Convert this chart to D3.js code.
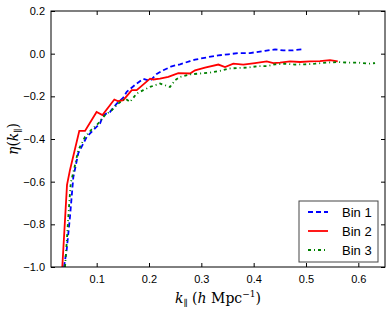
<!DOCTYPE html>
<html>
<head>
<meta charset="utf-8">
<script src="https://cdnjs.cloudflare.com/ajax/libs/d3/7.8.5/d3.min.js"></script>
<style>
	html, body { margin: 0; padding: 0; background: #fff; }
	svg { display: block; }
	.tick text { font-family: "Liberation Sans", Arial, sans-serif; font-size: 11px; fill: #000; }
</style>
</head>
<body>
<div id="chart"></div>
<script>
	'use strict';

	// values: k_par (h/Mpc) and eta for each bin
	var bin1K = [0.0375, 0.0427, 0.049, 0.0553, 0.0649, 0.0714, 0.0809, 0.0935, 0.1064, 0.1127, 0.1255, 0.1383,
		0.1509, 0.1574, 0.1765, 0.1891, 0.202, 0.2147, 0.2273, 0.2434, 0.2593, 0.2784, 0.288, 0.3134, 0.3325,
		0.3516, 0.3707, 0.393, 0.4217, 0.4408, 0.4567, 0.4728, 0.4919];
	var bin1Eta = [-1.0, -0.919, -0.764, -0.58, -0.466, -0.436, -0.390, -0.358, -0.327, -0.288, -0.273, -0.234,
		-0.206, -0.179, -0.140, -0.118, -0.128, -0.095, -0.078, -0.059, -0.050, -0.035, -0.028, -0.016, -0.008,
		-0.003, 0.003, 0.003, 0.013, 0.020, 0.015, 0.015, 0.020];

	var bin2K = [0.0343, 0.0433, 0.049, 0.0668, 0.0777, 0.0998, 0.111, 0.1337, 0.1413, 0.1509, 0.167, 0.1765,
		0.202, 0.2082, 0.221, 0.2369, 0.256, 0.2784, 0.288, 0.307, 0.3325, 0.3453, 0.3611, 0.3802, 0.4026,
		0.425, 0.4376, 0.4504, 0.4695, 0.4886, 0.5077, 0.5268, 0.5459, 0.5607];
	var bin2Eta = [-1.0, -0.615, -0.545, -0.362, -0.362, -0.273, -0.288, -0.215, -0.223, -0.218, -0.171, -0.171,
		-0.117, -0.121, -0.117, -0.109, -0.091, -0.093, -0.078, -0.065, -0.051, -0.063, -0.047, -0.051, -0.044,
		-0.036, -0.044, -0.042, -0.036, -0.039, -0.036, -0.035, -0.030, -0.036];

	var bin3K = [0.0395, 0.0427, 0.0458, 0.0504, 0.0586, 0.0649, 0.0714, 0.0777, 0.0905, 0.1031, 0.1159, 0.1287,
		0.1413, 0.1541, 0.1637, 0.1765, 0.1891, 0.202, 0.221, 0.2401, 0.2497, 0.2593, 0.2784, 0.2975, 0.3166,
		0.3357, 0.3516, 0.3707, 0.3898, 0.4089, 0.4274, 0.4408, 0.4599, 0.479, 0.4981, 0.5173, 0.5396, 0.5618,
		0.5809, 0.6, 0.619, 0.632];
	var bin3Eta = [-1.0, -0.886, -0.764, -0.607, -0.522, -0.452, -0.421, -0.390, -0.355, -0.327, -0.288, -0.265,
		-0.234, -0.210, -0.226, -0.187, -0.171, -0.156, -0.140, -0.156, -0.125, -0.109, -0.097, -0.093, -0.089,
		-0.081, -0.070, -0.067, -0.065, -0.058, -0.058, -0.050, -0.047, -0.051, -0.050, -0.047, -0.042, -0.039,
		-0.042, -0.042, -0.047, -0.044];

	var seriesNames = ['Bin 1', 'Bin 2', 'Bin 3'];
	var xTicks = [0.1, 0.2, 0.3, 0.4, 0.5, 0.6];
	var yTicks = [-1.0, -0.8, -0.6, -0.4, -0.2, 0.0, 0.2];

	// series styling, same order as seriesNames
	var styles = [
		{ color: '#0000ff', dash: '5,3' },
		{ color: '#ff0000', dash: null },
		{ color: '#008000', dash: '3,3,1,3' }
	];

	var width = 390, height = 311;
	var margin = { top: 11, right: 5, bottom: 44, left: 51 };
	var w = width - margin.left - margin.right;
	var h = height - margin.top - margin.bottom;

	var svg = d3.select('#chart').append('svg')
		.attr('width', width)
		.attr('height', height);

	var g = svg.append('g')
		.attr('transform', 'translate(' + margin.left + ',' + margin.top + ')');

	var x = d3.scaleLinear().domain([0.0127, 0.651]).range([0, w]);
	var y = d3.scaleLinear().domain([-1.0, 0.2]).range([h, 0]);

	// clip the curves to the axes box
	g.append('clipPath').attr('id', 'clip')
		.append('rect').attr('width', w).attr('height', h);

	var data = [
		d3.zip(bin1K, bin1Eta),
		d3.zip(bin2K, bin2Eta),
		d3.zip(bin3K, bin3Eta)
	];

	var line = d3.line()
		.x(function (d) { return x(d[0]); })
		.y(function (d) { return y(d[1]); });

	var curves = g.append('g').attr('clip-path', 'url(#clip)');
	data.forEach(function (pts, i) {
		curves.append('path')
			.attr('d', line(pts))
			.attr('fill', 'none')
			.attr('stroke', styles[i].color)
			.attr('stroke-width', 1.8)
			.attr('stroke-dasharray', styles[i].dash);
	});

	// axes with inward ticks on all four sides
	var tickLen = 4;
	var fmt = d3.format('.1f');
	var minus = function (v) { return fmt(v).replace('-', '\u2212'); };

	var xAxis = g.append('g').attr('transform', 'translate(0,' + h + ')')
		.call(d3.axisBottom(x).tickValues(xTicks).tickSizeInner(-tickLen).tickSizeOuter(0).tickPadding(8).tickFormat(fmt));
	var yAxis = g.append('g')
		.call(d3.axisLeft(y).tickValues(yTicks).tickSizeInner(-tickLen).tickSizeOuter(0).tickPadding(6).tickFormat(minus));
	var xTop = g.append('g')
		.call(d3.axisTop(x).tickValues(xTicks).tickSizeInner(-tickLen).tickSizeOuter(0).tickFormat(''));
	var yRight = g.append('g').attr('transform', 'translate(' + w + ',0)')
		.call(d3.axisRight(y).tickValues(yTicks).tickSizeInner(-tickLen).tickSizeOuter(0).tickFormat(''));

	[xAxis, yAxis, xTop, yRight].forEach(function (a) {
		a.select('.domain').remove();
		a.selectAll('.tick line').attr('stroke', '#000');
	});

	// axes frame
	g.append('rect')
		.attr('width', w).attr('height', h)
		.attr('fill', 'none').attr('stroke', '#000').attr('stroke-width', 1);

	// axis labels
	var serif = '"DejaVu Serif", "Liberation Serif", serif';
	var xl = svg.append('text')
		.attr('x', margin.left + w / 2)
		.attr('y', 303)
		.attr('text-anchor', 'middle')
		.style('font-family', serif)
		.style('font-size', '14px');
	xl.append('tspan').style('font-style', 'italic').text('k');
	xl.append('tspan').attr('dy', 3).style('font-size', '9px').text('\u2225');
	xl.append('tspan').attr('dy', -3).text(' (');
	xl.append('tspan').style('font-style', 'italic').text('h');
	xl.append('tspan').text(' Mpc');
	xl.append('tspan').attr('dy', -6).style('font-size', '9px').text('\u22121');
	xl.append('tspan').attr('dy', 6).text(')');

	var yl = svg.append('text')
		.attr('transform', 'translate(18,' + (margin.top + h / 2) + ') rotate(-90)')
		.attr('text-anchor', 'middle')
		.style('font-family', serif)
		.style('font-size', '14px');
	yl.append('tspan').style('font-style', 'italic').text('\u03b7');
	yl.append('tspan').text('(');
	yl.append('tspan').style('font-style', 'italic').text('k');
	yl.append('tspan').attr('dy', 3).style('font-size', '9px').text('\u2225');
	yl.append('tspan').attr('dy', -3).text(')');

	// legend box in the lower right
	var legend = svg.append('g').attr('transform', 'translate(299,201)');
	legend.append('rect')
		.attr('width', 79).attr('height', 61)
		.attr('fill', '#fff').attr('stroke', '#444').attr('stroke-width', 1);

	seriesNames.forEach(function (name, i) {
		var row = legend.append('g').attr('transform', 'translate(0,' + (11 + i * 19) + ')');
		row.append('line')
			.attr('x1', 9).attr('x2', 29)
			.attr('stroke', styles[i].color)
			.attr('stroke-width', 1.8)
			.attr('stroke-dasharray', styles[i].dash);
		row.append('text')
			.attr('x', 43).attr('y', 5)
			.style('font-family', '"Liberation Sans", Arial, sans-serif')
			.style('font-size', '13px')
			.text(name);
	});
</script>
</body>
</html>
